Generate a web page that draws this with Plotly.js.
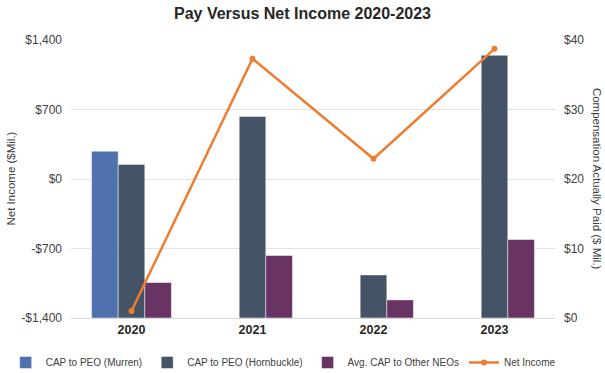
<!DOCTYPE html>
<html>
<head>
<meta charset="utf-8">
<script src="https://cdn.plot.ly/plotly-3.0.1.min.js"></script>
<style>html,body{margin:0;padding:0;background:#fff;}#chart{width:605px;height:373px;}</style>
</head>
<body>
<div id="chart"></div>
<script>
const years = ["2020", "2021", "2022", "2023"];
const capMurren = [24.0, null, null, null];
const capHornbuckle = [22.1, 29.0, 6.2, 37.8];
const capOtherNEOs = [5.1, 9.0, 2.6, 11.3];
const netIncome = [-1330, 1212, 204, 1311];

const leftTicks = [-1400, -700, 0, 700, 1400];
const leftTickText = ["-$1,400", "-$700", "$0", "$700", "$1,400"];
const rightTicks = [0, 10, 20, 30, 40];
const rightTickText = ["$0", "$10", "$20", "$30", "$40"];

const FONT = "Liberation Sans, Arial, sans-serif";
const barLine = {color: "rgba(255,255,255,0.6)", width: 0.8};

const traces = [
  {type: "bar", name: "CAP to PEO (Murren)", x: years, y: capMurren, yaxis: "y",
   marker: {color: "#4F72AF", line: barLine}},
  {type: "bar", name: "CAP to PEO (Hornbuckle)", x: years, y: capHornbuckle, yaxis: "y",
   marker: {color: "#455366", line: barLine}},
  {type: "bar", name: "Avg. CAP to Other NEOs", x: years, y: capOtherNEOs, yaxis: "y",
   marker: {color: "#683463", line: barLine}},
  {type: "scatter", mode: "lines+markers", name: "Net Income", x: years, y: netIncome, yaxis: "y2",
   line: {color: "#ED7D31", width: 2.5}, marker: {color: "#ED7D31", size: 6}}
];

const layout = {
  width: 605, height: 373,
  margin: {l: 71, r: 50, t: 40, b: 55, autoexpand: false},
  paper_bgcolor: "#fff", plot_bgcolor: "#fff",
  font: {family: FONT, color: "#404040"},
  title: {text: "<b>Pay Versus Net Income 2020-2023</b>", font: {size: 16, color: "#262626", family: FONT},
          x: 0.5, xanchor: "center", y: 0.965, yanchor: "middle"},
  barmode: "group", bargap: 0.34, bargroupgap: 0,
  showlegend: true,
  legend: {orientation: "h", x: -0.135, xanchor: "left", y: -0.16, yanchor: "middle",
           font: {size: 10, color: "#404040"}, traceorder: "normal", itemwidth: 30, tracegroupgap: 0},
  xaxis: {type: "category", showgrid: false, showline: true, linecolor: "#D9D9D9", linewidth: 1,
          ticks: "", tickfont: {size: 12.5, color: "#262626", weight: "bold"}, zeroline: false},
  yaxis: {range: [0, 40], tickvals: rightTicks, ticktext: rightTickText, side: "right",
          showgrid: true, gridcolor: "#E3E3E3", gridwidth: 1, zeroline: false, showline: false, ticks: "",
          tickfont: {size: 12, color: "#404040"}, ticklabelstandoff: 8},
  yaxis2: {range: [-1400, 1400], tickvals: leftTicks, ticktext: leftTickText, overlaying: "y", side: "left",
           showgrid: false, zeroline: false, showline: false, ticks: "",
           tickfont: {size: 12, color: "#404040"}, ticklabelstandoff: 8},
  annotations: [
    {text: "Net Income ($Mil.)", xref: "paper", yref: "paper", x: -0.125, y: 0.5, textangle: -90,
     showarrow: false, xanchor: "center", yanchor: "middle", font: {size: 11.5, color: "#404040"}},
    {text: "Compensation Actually Paid ($ Mil.)", xref: "paper", yref: "paper", x: 1.087, y: 0.5, textangle: 90,
     showarrow: false, xanchor: "center", yanchor: "middle", font: {size: 11.5, color: "#404040"}}
  ]
};

Plotly.newPlot("chart", traces, layout, {displayModeBar: false, staticPlot: true});
</script>
</body>
</html>
